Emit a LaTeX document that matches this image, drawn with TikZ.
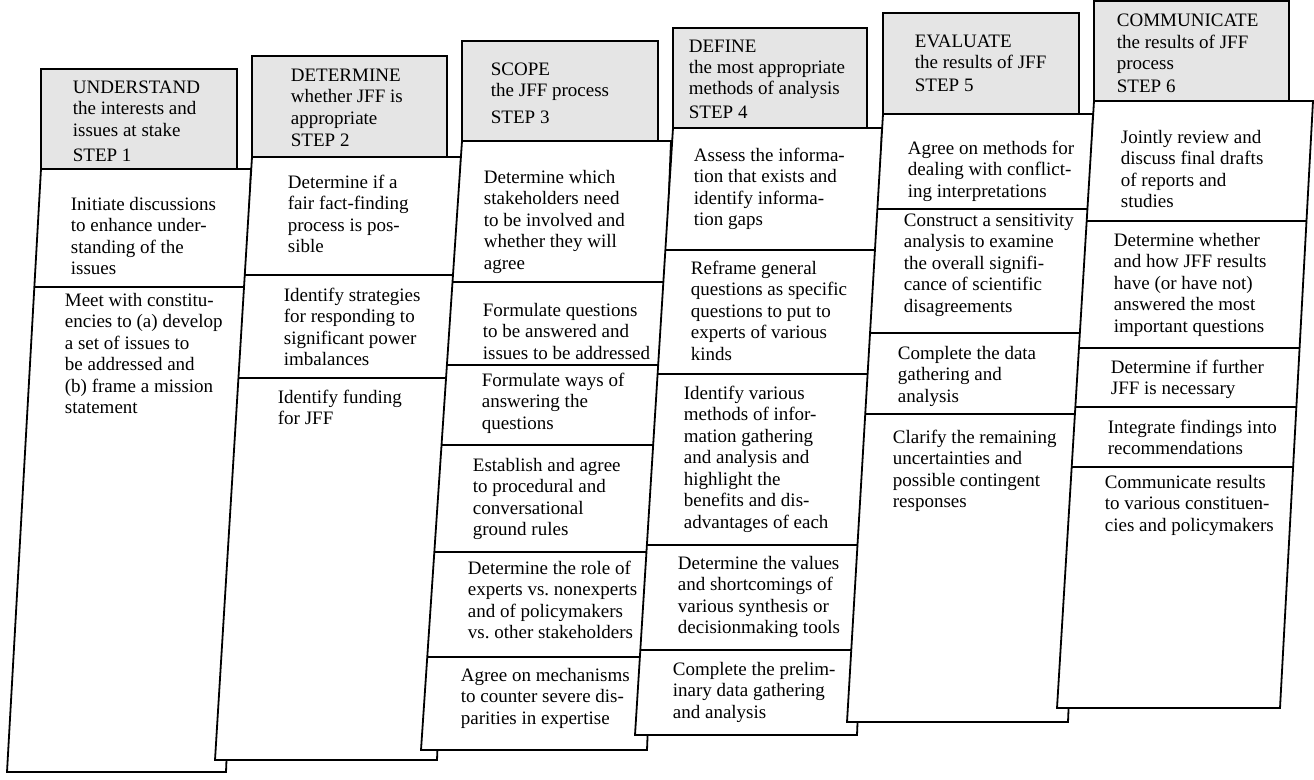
\documentclass[tikz,border=0pt]{standalone}
\usepackage{fontspec}
\setmainfont{Liberation Serif}
\usepackage{tikz}
\definecolor{headgray}{rgb}{0.9,0.9,0.9}
\newcommand{\cell}[1]{\parbox[t]{7cm}{\raggedright #1}}

\begin{document}
\begin{tikzpicture}[x=1pt,y=-1pt,line width=1.8pt,
  head/.style={fill=headgray,draw=black},
  col/.style={fill=white,draw=black},
  txt/.style={anchor=base west,inner sep=0pt,font=\fontsize{19}{21.5}\selectfont}]
\useasboundingbox (0,0) rectangle (1314,779);

\filldraw[col] (41,169) -- (251,169) -- (226,772) -- (7,772) -- cycle;
\draw (34.4,287) -- (246.1,287);
\filldraw[head] (41,69) rectangle (237,169);
\node[txt] (understand) at (72,93) {\cell{UNDERSTAND\\the interests and\\issues at stake\\[4pt]STEP 1}};
\node[txt] (s1a) at (70,210) {\cell{Initiate discussions\\to enhance under-\\standing of the\\issues}};
\node[txt] (s1b) at (64,306) {\cell{Meet with constitu-\\encies to (a) develop\\a set of issues to\\be addressed and\\(b) frame a mission\\statement}};

\filldraw[col] (252,157) -- (461,157) -- (437,760) -- (215,760) -- cycle;
\draw (244.8,275) -- (456.3,275);
\draw (238.4,378) -- (452.2,378);
\filldraw[head] (252,56) rectangle (447,157);
\node[txt] (determine) at (290,81) {\cell{DETERMINE\\whether JFF is\\appropriate\\[1pt]STEP 2}};
\node[txt] (s2a) at (287,188) {\cell{Determine if a\\fair fact-finding\\process is pos-\\sible}};
\node[txt] (s2b) at (283,301) {\cell{Identify strategies\\for responding to\\significant power\\imbalances}};
\node[txt] (s2c) at (277,403) {\cell{Identify funding\\for JFF}};

\filldraw[col] (462,141) -- (671,141) -- (647,750) -- (421,750) -- cycle;
\draw (452.5,282) -- (665.4,282);
\draw (446.9,365) -- (662.2,365);
\draw (441.5,445) -- (659.0,445);
\draw (434.3,552) -- (654.8,552);
\draw (427.3,657) -- (650.7,657);
\filldraw[head] (462,41) rectangle (658,141);
\node[txt] (scope) at (490,75) {\cell{SCOPE\\the JFF process\\[5pt]STEP 3}};
\node[txt] (s3a) at (483,183) {\cell{Determine which\\stakeholders need\\to be involved and\\whether they will\\agree}};
\node[txt] (s3b) at (482,316) {\cell{Formulate questions\\to be answered and\\issues to be addressed}};
\node[txt] (s3c) at (481,386) {\cell{Formulate ways of\\answering the\\questions}};
\node[txt] (s3d) at (472,471) {\cell{Establish and agree\\to procedural and\\conversational\\ground rules}};
\node[txt] (s3e) at (467,574) {\cell{Determine the role of\\experts vs.\ nonexperts\\and of policymakers\\vs.\ other stakeholders}};
\node[txt] (s3f) at (460,681) {\cell{Agree on mechanisms\\to counter severe dis-\\parities in expertise}};

\filldraw[col] (673,128) -- (882,128) -- (857,735) -- (635,735) -- cycle;
\draw (665.4,250) -- (877.0,250);
\draw (657.6,374) -- (871.9,374);
\draw (646.9,545) -- (864.8,545);
\draw (640.3,650) -- (860.5,650);
\filldraw[head] (673,28) rectangle (867,128);
\node[txt] (define) at (688,52) {\cell{DEFINE\\the most appropriate\\methods of analysis\\[2pt]STEP 4}};
\node[txt] (s4a) at (693,161) {\cell{Assess the informa-\\tion that exists and\\identify informa-\\tion gaps}};
\node[txt] (s4b) at (690,274) {\cell{Reframe general\\questions as specific\\questions to put to\\experts of various\\kinds}};
\node[txt] (s4c) at (683,399) {\cell{Identify various\\methods of infor-\\mation gathering\\and analysis and\\highlight the\\benefits and dis-\\advantages of each}};
\node[txt] (s4d) at (677,569) {\cell{Determine the values\\and shortcomings of\\various synthesis or\\decisionmaking tools}};
\node[txt] (s4e) at (672,675) {\cell{Complete the prelim-\\inary data gathering\\and analysis}};

\filldraw[col] (883,114) -- (1093,114) -- (1068,722) -- (847,722) -- cycle;
\draw (877.4,209) -- (1089.1,209);
\draw (870.0,333) -- (1084.0,333);
\draw (865.2,414) -- (1080.7,414);
\filldraw[head] (883,13) rectangle (1079,114);
\node[txt] (evaluate) at (914,47) {\cell{EVALUATE\\the results of JFF\\[1pt]STEP 5}};
\node[txt] (s5a) at (907,154) {\cell{Agree on methods for\\dealing with conflict-\\ing interpretations}};
\node[txt] (s5b) at (903,226) {\cell{Construct a sensitivity\\analysis to examine\\the overall signifi-\\cance of scientific\\disagreements}};
\node[txt] (s5c) at (897,359) {\cell{Complete the data\\gathering and\\analysis}};
\node[txt] (s5d) at (892,443) {\cell{Clarify the remaining\\uncertainties and\\possible contingent\\responses}};

\filldraw[col] (1094,101) -- (1313,101) -- (1280,708) -- (1057,708) -- cycle;
\draw (1086.7,221) -- (1306.5,221);
\draw (1078.9,348) -- (1299.6,348);
\draw (1075.3,407) -- (1296.4,407);
\draw (1071.7,467) -- (1293.1,467);
\filldraw[head] (1094,1) rectangle (1289,101);
\node[txt] (communicate) at (1116,27) {\cell{COMMUNICATE\\the results of JFF\\process\\[1pt]STEP 6}};
\node[txt] (s6a) at (1120,143) {\cell{Jointly review and\\discuss final drafts\\of reports and\\studies}};
\node[txt] (s6b) at (1113,246) {\cell{Determine whether\\and how JFF results\\have (or have not)\\answered the most\\important questions}};
\node[txt] (s6c) at (1110,373) {\cell{Determine if further\\JFF is necessary}};
\node[txt] (s6d) at (1107,433) {\cell{Integrate findings into\\recommendations}};
\node[txt] (s6e) at (1104,488) {\cell{Communicate results\\to various constituen-\\cies and policymakers}};
\end{tikzpicture}
\end{document}
